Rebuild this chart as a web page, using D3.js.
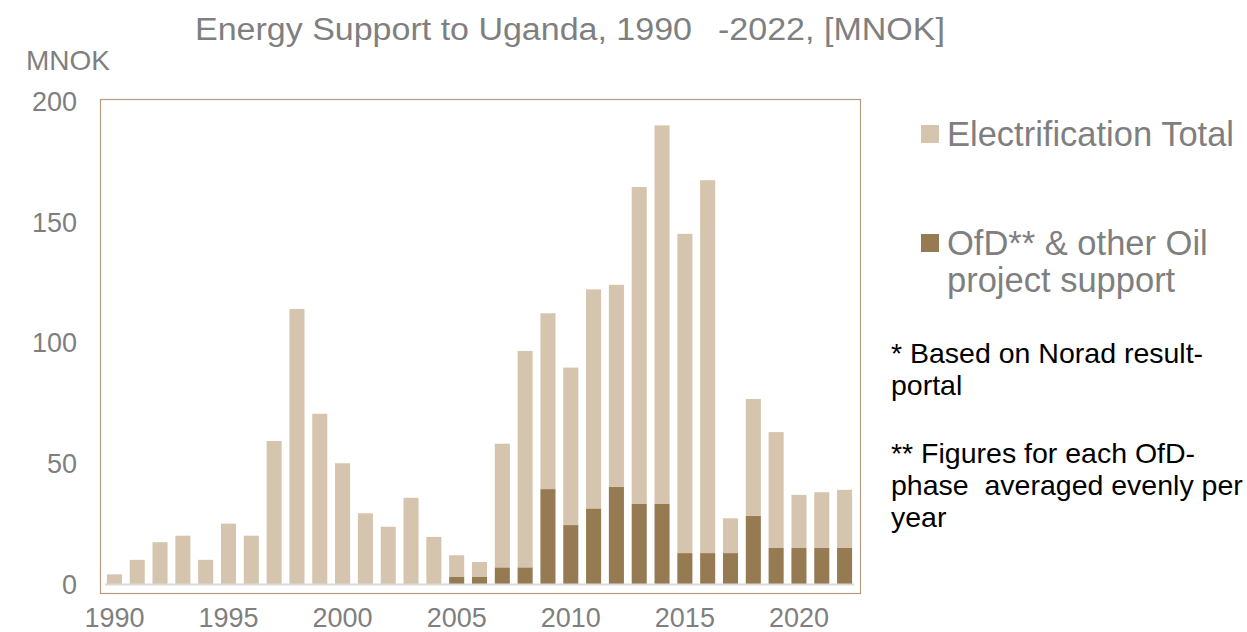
<!DOCTYPE html>
<meta charset="utf-8">
<title>Energy Support to Uganda</title>
<script src="https://cdn.jsdelivr.net/npm/d3@7"></script>
<style>
body { margin: 0; background: #fff; }
text { font-family: "Liberation Sans", Arial, sans-serif; }
.tick text { fill: #7f7f7f; font-size: 27px; }
</style>
<body>
<script>

// years on the x axis
var years = d3.range(1990, 2023);

// total bar height per year (electrification + oil), MNOK
var totals = [4, 10, 17.3, 20, 10, 25, 20, 59.2, 113.9, 70.5, 50, 29.3, 23.7, 35.7, 19.5, 11.9, 9.1,
              58.1, 96.5, 112.1, 89.6, 122, 123.9, 164.4, 189.9, 145, 167.2, 27.2, 76.6, 62.9, 36.9, 38, 39];

// OfD & other oil project support, MNOK
var oil = [0, 0, 0, 0, 0, 0, 0, 0, 0, 0, 0, 0, 0, 0, 0, 2.9, 2.9,
           6.9, 6.9, 39.3, 24.4, 31.3, 40.2, 33.3, 33.3, 12.8, 12.8, 12.8, 28.2, 14.9, 14.9, 14.9, 14.9];

var yTicks = [0, 50, 100, 150, 200];
var xTicks = [1990, 1995, 2000, 2005, 2010, 2015, 2020];

var seriesNames = ["Electrification Total", "OfD** & other Oil project support"];
var colors = ["#d5c4ae", "#957a52"];

var rows = years.map(function(y, i) {
  return {year: y, oil: oil[i], elec: totals[i] - oil[i]};
});

var svg = d3.select("body").append("svg")
    .attr("width", 1247)
    .attr("height", 632);

var x = d3.scaleBand()
    .domain(years)
    .range([103, 856])
    .paddingInner(0.34)
    .paddingOuter(0.17);

var y = d3.scaleLinear()
    .domain([0, 200])
    .range([584, 101]);

// frame
svg.append("rect")
    .attr("x", 100.5).attr("y", 99.5)
    .attr("width", 760).attr("height", 494)
    .attr("fill", "none")
    .attr("stroke", "#b39d80")
    .attr("stroke-width", 1.2);

// stacked bars, oil at the bottom
var stack = d3.stack().keys(["oil", "elec"]);
var layers = stack(rows);

svg.append("g").selectAll("g")
  .data(layers)
  .enter().append("g")
    .attr("fill", function(d) { return d.key == "oil" ? colors[1] : colors[0]; })
  .selectAll("rect")
  .data(function(d) { return d; })
  .enter().append("rect")
    .attr("x", function(d) { return x(d.data.year); })
    .attr("y", function(d) { return y(d[1]); })
    .attr("width", x.bandwidth())
    .attr("height", function(d) { return Math.max(0, y(d[0]) - y(d[1])); });

// baseline
svg.append("line")
    .attr("x1", 105).attr("x2", 854)
    .attr("y1", y(0) + 0.5).attr("y2", y(0) + 0.5)
    .attr("stroke", "#d9d9d9")
    .attr("stroke-width", 2);

// y axis labels
var yAxis = d3.axisLeft(y).tickValues(yTicks).tickSize(0).tickPadding(0);
var gy = svg.append("g")
    .attr("transform", "translate(77,0)")
    .call(yAxis);
gy.select(".domain").remove();
gy.selectAll("text").attr("dy", "0.35em");

// x axis labels
var xAxis = d3.axisBottom(x).tickValues(xTicks).tickSize(0).tickPadding(0);
var gx = svg.append("g")
    .attr("transform", "translate(0,627)")
    .call(xAxis);
gx.select(".domain").remove();
gx.selectAll("text").attr("dy", 0);

// title (two pieces, the original has a wide gap before the dash)
svg.append("text")
    .attr("x", 195).attr("y", 40)
    .attr("font-size", "31px")
    .attr("fill", "#7f7f7f")
    .attr("textLength", 497)
    .attr("lengthAdjust", "spacingAndGlyphs")
    .text("Energy Support to Uganda, 1990");
svg.append("text")
    .attr("x", 718).attr("y", 40)
    .attr("font-size", "31px")
    .attr("fill", "#7f7f7f")
    .attr("textLength", 227)
    .attr("lengthAdjust", "spacingAndGlyphs")
    .text("-2022, [MNOK]");

svg.append("text")
    .attr("x", 26).attr("y", 70)
    .attr("font-size", "28px")
    .attr("fill", "#7f7f7f")
    .text("MNOK");

// legend
var legend = [
  {lines: [seriesNames[0]], y: 146, color: colors[0]},
  {lines: ["OfD** & other Oil", "project support"], y: 255, color: colors[1]}
];
legend.forEach(function(l) {
  svg.append("rect")
      .attr("x", 921).attr("y", l.y - 21)
      .attr("width", 18).attr("height", 18)
      .attr("fill", l.color);
  var t = svg.append("text")
      .attr("x", 947).attr("y", l.y)
      .attr("font-size", "34.5px")
      .attr("fill", "#7f7f7f");
  l.lines.forEach(function(s, i) {
    t.append("tspan").attr("x", 947).attr("dy", i == 0 ? 0 : 37).text(s);
  });
});

// notes
var notes = [
  {lines: ["* Based on Norad result-", "portal"], y: 363},
  {lines: ["** Figures for each OfD-", "phase  averaged evenly per", "year"], y: 463}
];
notes.forEach(function(n) {
  var t = svg.append("text")
      .attr("x", 891).attr("y", n.y)
      .attr("font-size", "28.5px")
      .attr("fill", "#000")
      .style("white-space", "pre");
  n.lines.forEach(function(s, i) {
    t.append("tspan").attr("x", 891).attr("dy", i == 0 ? 0 : 32).text(s);
  });
});

</script>
</body>
</html>
